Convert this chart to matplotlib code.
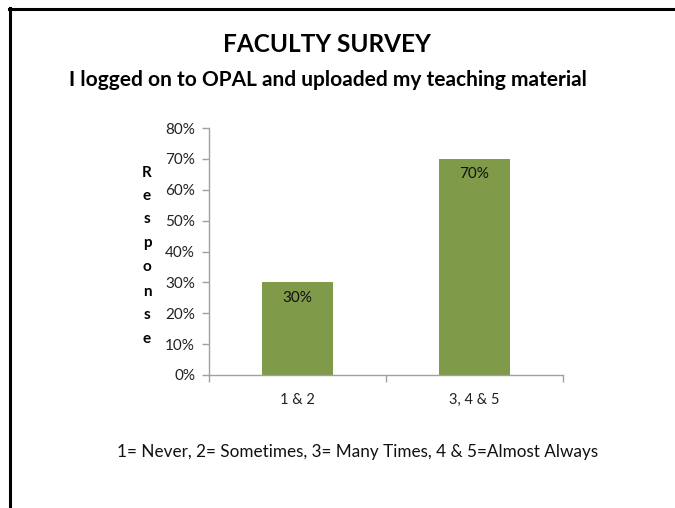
import matplotlib
matplotlib.use("Agg")
import matplotlib.pyplot as plt
from matplotlib.lines import Line2D
from matplotlib.ticker import FixedLocator

categories = ["1 & 2", "3, 4 & 5"]
values = [30, 70]
yticks = [0, 10, 20, 30, 40, 50, 60, 70, 80]
title = "FACULTY SURVEY"
subtitle = "I logged on to OPAL and uploaded my teaching material"
ylabel = "Response"
footnote = "1= Never, 2= Sometimes, 3= Many Times, 4 & 5=Almost Always"

FONT = "Lato"
plt.rcParams["font.family"] = [FONT, "DejaVu Sans"]

W, H = 675, 508
fig = plt.figure(figsize=(W / 100, H / 100), dpi=100)

# frame lines (left and top border)
fig.add_artist(Line2D([9.5 / W, 9.5 / W], [0, 1 - 8 / H], color="black", lw=2.2, transform=fig.transFigure))
fig.add_artist(Line2D([8.5 / W, 1], [1 - 8.5 / H, 1 - 8.5 / H], color="black", lw=2.2, transform=fig.transFigure))

ax = fig.add_axes([209 / W, 1 - 375 / H, (563 - 209) / W, (375 - 128) / H])
x = list(range(len(categories)))
bars = ax.bar(x, values, width=0.4, color="#7F9A48", zorder=2)
ax.set_xlim(-0.5, len(categories) - 0.5)
ax.set_ylim(0, 80)
ax.set_yticks(yticks)
ax.set_yticklabels([f"{v}%" for v in yticks], fontsize=11, color="#222222")
ax.set_xticks(x)
ax.set_xticklabels(categories, fontsize=10.5, color="#222222")
ax.tick_params(axis="x", which="major", length=0, pad=13)
ax.xaxis.set_minor_locator(FixedLocator([i - 0.5 for i in range(len(categories) + 1)]))
ax.tick_params(axis="x", which="minor", length=5, color="#A0A0A0", width=1)
ax.tick_params(axis="y", length=5, color="#A0A0A0", width=1, pad=5)
for s in ["top", "right"]:
    ax.spines[s].set_visible(False)
for s in ["left", "bottom"]:
    ax.spines[s].set_color("#A0A0A0")
    ax.spines[s].set_linewidth(1)

for b, v in zip(bars, values):
    ax.annotate(f"{v}%", (b.get_x() + b.get_width() / 2, v), xytext=(0, -11),
                textcoords="offset points", ha="center", va="center", fontsize=11, color="#111111")

# stacked vertical y label
ys = [173, 196, 219, 243, 267, 292, 315, 339]
for ch, yy in zip(ylabel, ys):
    fig.text(147 / W, 1 - yy / H, ch, ha="center", va="center", fontsize=11, fontweight="bold")

fig.text(327 / W, 1 - 44 / H, title, ha="center", va="center", fontsize=17.6, fontweight="bold")
fig.text(328 / W, 1 - 80 / H, subtitle, ha="center", va="center", fontsize=15, fontweight="bold")
fig.text(358 / W, 1 - 452 / H, footnote, ha="center", va="center", fontsize=12.3, color="#111111")

fig.savefig("out.png", dpi=100)
